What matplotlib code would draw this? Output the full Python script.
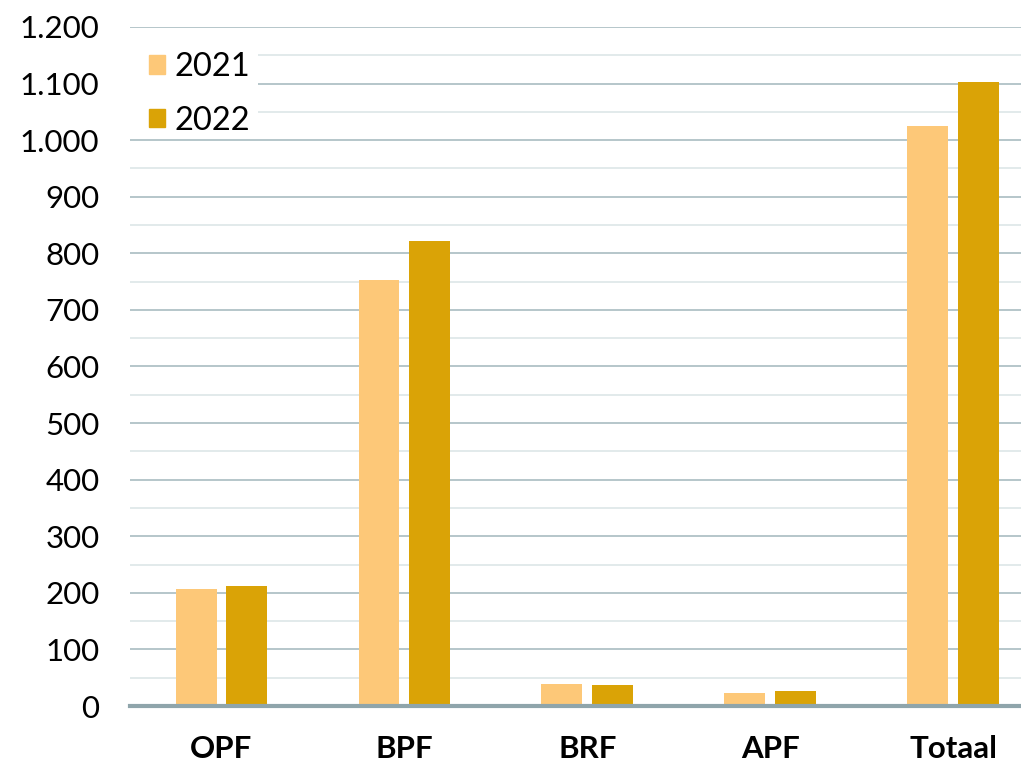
import matplotlib
matplotlib.use('Agg')
import matplotlib.pyplot as plt
from matplotlib.ticker import FuncFormatter, MultipleLocator
from matplotlib.patches import Patch, Rectangle
import numpy as np

categories = ['OPF', 'BPF', 'BRF', 'APF', 'Totaal']
vals_2021 = [207, 753, 39, 23, 1025]
vals_2022 = [212, 822, 37, 27, 1102]
series_labels = ['2021', '2022']
colors = ['#FDC878', '#DAA306']

plt.rcParams['font.family'] = ['Lato', 'DejaVu Sans']

fig = plt.figure(figsize=(10.21, 7.63), dpi=100)
ax = fig.add_axes([130 / 1021, 1 - 706 / 763, (1021 - 130) / 1021, (706 - 27) / 763])

x = np.arange(len(categories))
w = 0.224
off = 0.139
ax.bar(x - off, vals_2021, w, color=colors[0], zorder=3)
ax.bar(x + off, vals_2022, w, color=colors[1], zorder=3)

ax.set_xlim(-0.5, 4.37)
ax.set_ylim(0, 1200)
ax.yaxis.set_major_locator(MultipleLocator(100))
ax.yaxis.set_minor_locator(MultipleLocator(50))
ax.yaxis.set_major_formatter(FuncFormatter(lambda v, p: f'{int(v):,}'.replace(',', '.')))
ax.set_axisbelow(True)
ax.grid(axis='y', which='major', color='#A9BCC1', linewidth=1.2)
ax.grid(axis='y', which='minor', color='#DDE6E8', linewidth=1.2)
ax.set_xticks(x)
ax.set_xticklabels(categories, fontsize=22.5, fontweight='bold')
ax.tick_params(axis='y', which='both', length=0, labelsize=22.5, pad=22)
ax.tick_params(axis='x', length=0, pad=21)
for s in ['top', 'right', 'left']:
    ax.spines[s].set_visible(False)
ax.spines['bottom'].set_color('#8FA5AB')
ax.spines['bottom'].set_linewidth(3)
ax.spines['bottom'].set_zorder(4)

# white box behind the legend (gridlines hidden there)
ax.add_patch(Rectangle((-0.005, 0.845), 0.149, 0.128, transform=ax.transAxes,
                       facecolor='white', edgecolor='none', zorder=2.8))

handles = [Patch(color=c, label=l) for c, l in zip(colors, series_labels)]
leg = ax.legend(handles=handles, loc='upper left', bbox_to_anchor=(0.021, 0.963),
                frameon=False, fontsize=23.5, handlelength=0.5, handleheight=0.5,
                handletextpad=0.3, labelspacing=0.72, borderaxespad=0, borderpad=0)

plt.savefig('out.png', dpi=100)
